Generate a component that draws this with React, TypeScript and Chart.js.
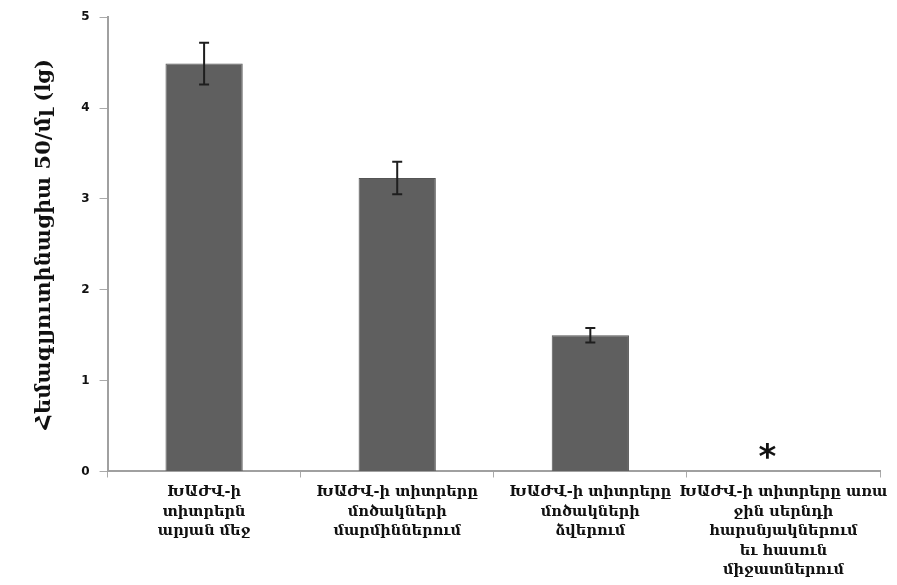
import React, { useEffect, useRef } from "react";
import { Chart, registerables } from "chart.js";

Chart.register(...registerables);

const categories: string[][] = [
  ["ԽԱԺՎ-ի", "տիտրերն", "արյան մեջ"],
  ["ԽԱԺՎ-ի տիտրերը", "մոծակների", "մարմիններում"],
  ["ԽԱԺՎ-ի տիտրերը", "մոծակների", "ձվերում"],
  ["ԽԱԺՎ-ի տիտրերը առա", "ջին սերնդի", "հարսնյակներում", "եւ հասուն", "միջատներում"],
];
const values = [4.49, 3.23, 1.5, 0];
const errors = [0.23, 0.18, 0.08, 0];
const markers = ["", "", "", "*"];
const yTicks = [0, 1, 2, 3, 4, 5];
const yTitle = "Հեմագլյուտինացիա 50/մլ (lg)";

const errorBarPlugin = {
  id: "errorBars",
  afterDatasetsDraw(chart: any) {
    const ctx = chart.ctx;
    const xs = chart.scales.x;
    const ys = chart.scales.y;
    ctx.save();
    ctx.strokeStyle = "#1e1e1e";
    ctx.lineWidth = 2;
    values.forEach((v, i) => {
      const e = errors[i];
      if (!e) return;
      const x = xs.getPixelForValue(i);
      const yt = ys.getPixelForValue(v + e);
      const yb = ys.getPixelForValue(v - e);
      ctx.beginPath();
      ctx.moveTo(x, yt);
      ctx.lineTo(x, yb);
      ctx.moveTo(x - 5, yt);
      ctx.lineTo(x + 5, yt);
      ctx.moveTo(x - 5, yb);
      ctx.lineTo(x + 5, yb);
      ctx.stroke();
    });
    ctx.fillStyle = "#111";
    ctx.font = "bold 34px 'DejaVu Sans', sans-serif";
    ctx.textAlign = "center";
    ctx.textBaseline = "middle";
    markers.forEach((m, i) => {
      if (!m) return;
      const x = xs.getPixelForValue(i);
      const y = ys.getPixelForValue(values[i]);
      ctx.fillText(m, x - 16, y - 12);
    });
    ctx.restore();
  },
};

export default function App() {
  const ref = useRef<HTMLCanvasElement>(null);
  useEffect(() => {
    if (!ref.current) return;
    const chart = new Chart(ref.current, {
      type: "bar",
      data: {
        labels: categories,
        datasets: [
          {
            data: values,
            backgroundColor: "#5f5f5f",
            borderColor: "#555555",
            borderWidth: 1,
            categoryPercentage: 1,
            barPercentage: 0.4,
          },
        ],
      },
      options: {
        animation: false,
        responsive: false,
        maintainAspectRatio: false,
        layout: { padding: { top: 16, right: 17, left: 32, bottom: 0 } },
        plugins: { legend: { display: false }, tooltip: { enabled: false } },
        scales: {
          x: {
            grid: {
              offset: true,
              drawOnChartArea: false,
              drawTicks: true,
              tickLength: 6,
              color: "#aaaaaa",
            },
            border: { color: "#a0a0a0", width: 2 },
            ticks: {
              autoSkip: false,
              maxRotation: 0,
              minRotation: 0,
              color: "#111",
              padding: 5,
              font: { family: "'DejaVu Serif', serif", size: 14.5, weight: "bold", lineHeight: 1.345 },
            },
          },
          y: {
            min: 0,
            max: 5,
            afterBuildTicks: (s: any) => {
              s.ticks = yTicks.map((v) => ({ value: v }));
            },
            grid: { drawOnChartArea: false, drawTicks: true, tickLength: 8, color: "#aaaaaa" },
            border: { color: "#a0a0a0", width: 2 },
            ticks: {
              color: "#111",
              padding: 10,
              font: { family: "'DejaVu Sans', sans-serif", size: 12, weight: "bold" },
            },
            title: {
              display: true,
              text: yTitle,
              color: "#111",
              padding: { top: 0, bottom: 14 },
              font: { family: "'DejaVu Serif', serif", size: 21, weight: "bold" },
            },
          },
        },
      },
      plugins: [errorBarPlugin],
    } as any);
    return () => chart.destroy();
  }, []);
  return (
    <div style={{ position: "fixed", left: 0, top: 0, width: 897, height: 585, background: "#fff" }}>
      <canvas ref={ref} width={897} height={585} style={{ display: "block" }} />
    </div>
  );
}
